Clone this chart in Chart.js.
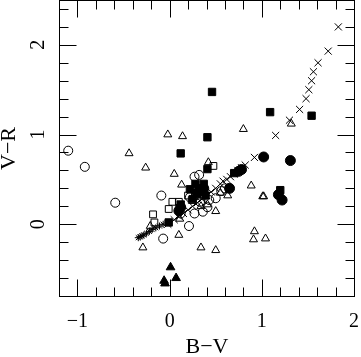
<!DOCTYPE html>
<html>
<head>
<meta charset="utf-8">
<script src="https://cdn.jsdelivr.net/npm/chart.js@4.4.1/dist/chart.umd.min.js"></script>
<style>
  html, body { margin: 0; padding: 0; background: #fff; }
  canvas { display: block; }
</style>
</head>
<body>
<canvas id="colourChart" width="361" height="357"></canvas>
<script>
// B-V, V-R pairs, one list per marker type
const crossPoints = [
  [-0.02, 0.00], [0.05, 0.05], [0.10, 0.09], [0.15, 0.12], [0.20, 0.16], [0.25, 0.20],
  [0.30, 0.24], [0.35, 0.28], [0.40, 0.32], [0.45, 0.36], [0.50, 0.40], [0.55, 0.45],
  [0.58, 0.48], [0.62, 0.50], [0.66, 0.53], [0.70, 0.56], [0.74, 0.60], [0.78, 0.63],
  [0.82, 0.66], [0.92, 0.745], [1.15, 0.99], [1.30, 1.16], [1.41, 1.28], [1.48, 1.40],
  [1.51, 1.50], [1.54, 1.60], [1.56, 1.70], [1.61, 1.80], [1.72, 1.93], [1.83, 2.20]
];
const starPoints = [
  [-0.34, -0.15], [-0.32, -0.14], [-0.30, -0.13], [-0.28, -0.12], [-0.25, -0.10],
  [-0.22, -0.08], [-0.19, -0.06], [-0.15, -0.04], [-0.11, -0.02], [-0.07, 0.00]
];
const openCircles = [
  [-1.10, 0.82], [-0.92, 0.64], [-0.59, 0.24], [-0.09, 0.32], [-0.07, -0.16], [0.21, -0.02],
  [0.27, 0.53], [0.32, 0.55], [0.27, 0.12], [0.36, 0.14], [0.50, 0.29], [0.12, 0.12],
  [0.41, 0.19], [0.43, 0.27], [0.33, 0.25], [0.22, 0.30], [0.56, 0.37], [0.60, 0.40]
];
const filledCircles = [
  [1.02, 0.75], [1.31, 0.71], [1.18, 0.33], [1.22, 0.27], [0.78, 0.61], [0.75, 0.59],
  [0.65, 0.40], [0.12, 0.19], [0.10, 0.15], [0.37, 0.40], [0.30, 0.35]
];
const openTriangles = [
  [-0.02, 1.00], [0.14, 0.98], [-0.44, 0.79], [-0.26, 0.63], [0.05, 0.56], [0.13, 0.44],
  [0.80, 1.06], [0.42, 0.69], [0.885, 0.43], [1.01, 0.31], [1.02, 0.31], [1.32, 1.12],
  [0.50, 0.145], [0.63, 0.32], [0.10, -0.12], [0.11, 0.06], [-0.29, -0.26], [0.34, -0.26],
  [0.50, -0.29], [0.92, -0.08], [0.91, -0.17], [1.04, -0.16], [0.34, 0.20], [0.41, 0.22],
  [0.55, 0.35], [0.27, 0.30], [-0.21, -0.02]
];
const filledTriangles = [
  [0.01, -0.48], [0.07, -0.60], [-0.06, -0.63], [-0.05, -0.66]
];
const openSquares = [
  [0.475, 0.65], [-0.18, 0.11], [-0.165, 0.02], [0.03, 0.25], [0.10, 0.25], [-0.01, 0.17],
  [0.24, 0.27], [0.20, 0.32], [0.30, 0.32]
];
const filledSquares = [
  [0.46, 1.475], [1.09, 1.25], [1.54, 1.21], [0.41, 0.97], [0.12, 0.79], [0.41, 0.615],
  [0.22, 0.39], [0.28, 0.45], [0.37, 0.45], [0.36, 0.36], [0.25, 0.28], [-0.01, 0.02],
  [1.20, 0.38], [0.70, 0.57], [0.12, 0.22], [0.39, 0.32], [0.32, 0.40]
];

const xTicks = [-1, 0, 1, 2];
const yTicks = [0, 1, 2];

const toXY = pts => pts.map(p => ({ x: p[0], y: p[1] }));

function markerSet(pts, style, radius, filled) {
  return {
    data: toXY(pts),
    pointStyle: style,
    pointRadius: radius,
    pointHoverRadius: radius,
    pointBorderWidth: 1,
    pointBorderColor: '#000',
    pointBackgroundColor: filled ? '#000' : 'rgba(0,0,0,0)',
    showLine: false
  };
}

// frame, inward ticks on all four sides, tick labels and titles
const framePlugin = {
  id: 'pgFrame',
  afterDraw(chart) {
    const ctx = chart.ctx;
    const xs = chart.scales.x, ys = chart.scales.y;
    const a = chart.chartArea;
    const L = Math.round(a.left) + 0.5, R = Math.round(a.right) + 0.5;
    const T = Math.round(a.top) + 0.5, B = Math.round(a.bottom) + 0.5;
    ctx.save();
    ctx.strokeStyle = '#000';
    ctx.lineWidth = 1;
    ctx.strokeRect(L, T, R - L, B - T);

    ctx.beginPath();
    for (let i = -12; i <= 20; i += 2) {
      const v = i / 10;
      const len = i % 10 === 0 ? 17 : 9;
      const px = Math.round(xs.getPixelForValue(v)) + 0.5;
      ctx.moveTo(px, B); ctx.lineTo(px, B - len);
      ctx.moveTo(px, T); ctx.lineTo(px, T + len);
    }
    for (let i = -8; i <= 24; i += 2) {
      const v = i / 10;
      const len = i % 10 === 0 ? 17 : 9;
      const py = Math.round(ys.getPixelForValue(v)) + 0.5;
      ctx.moveTo(L, py); ctx.lineTo(L + len, py);
      ctx.moveTo(R, py); ctx.lineTo(R - len, py);
    }
    ctx.stroke();

    ctx.fillStyle = '#000';
    ctx.font = '20px "Liberation Serif", serif';
    ctx.textAlign = 'center';
    ctx.textBaseline = 'middle';
    xTicks.forEach(v => {
      const label = v < 0 ? '\u2212' + Math.abs(v) : String(v);
      ctx.fillText(label, xs.getPixelForValue(v), 322);
    });
    yTicks.forEach(v => {
      ctx.save();
      ctx.translate(39, ys.getPixelForValue(v));
      ctx.rotate(-Math.PI / 2);
      ctx.fillText(String(v), 0, 0);
      ctx.restore();
    });

    ctx.font = '22px "Liberation Serif", serif';
    ctx.fillText('B\u2212V', (L + R) / 2, 347);
    ctx.save();
    ctx.translate(9, (T + B) / 2);
    ctx.rotate(-Math.PI / 2);
    ctx.fillText('V\u2212R', 0, 0);
    ctx.restore();
    ctx.restore();
  }
};

new Chart(document.getElementById('colourChart'), {
  type: 'scatter',
  data: {
    datasets: [
      markerSet(starPoints, 'star', 3.5, false),
      markerSet(crossPoints, 'crossRot', 5, false),
      markerSet(openCircles, 'circle', 4.5, false),
      markerSet(openTriangles, 'triangle', 4.6, false),
      markerSet(openSquares, 'rect', 4.8, false),
      markerSet(filledTriangles, 'triangle', 5, true),
      markerSet(filledSquares, 'rect', 5.2, true),
      markerSet(filledCircles, 'circle', 5, true)
    ]
  },
  options: {
    responsive: false,
    animation: false,
    layout: { autoPadding: false, padding: { left: 59, right: 7, top: 0, bottom: 61 } },
    plugins: { legend: { display: false }, tooltip: { enabled: false } },
    scales: {
      x: { type: 'linear', min: -1.2, max: 2.0, display: false },
      y: { type: 'linear', min: -0.8, max: 2.5, display: false }
    }
  },
  plugins: [framePlugin]
});
</script>
</body>
</html>
